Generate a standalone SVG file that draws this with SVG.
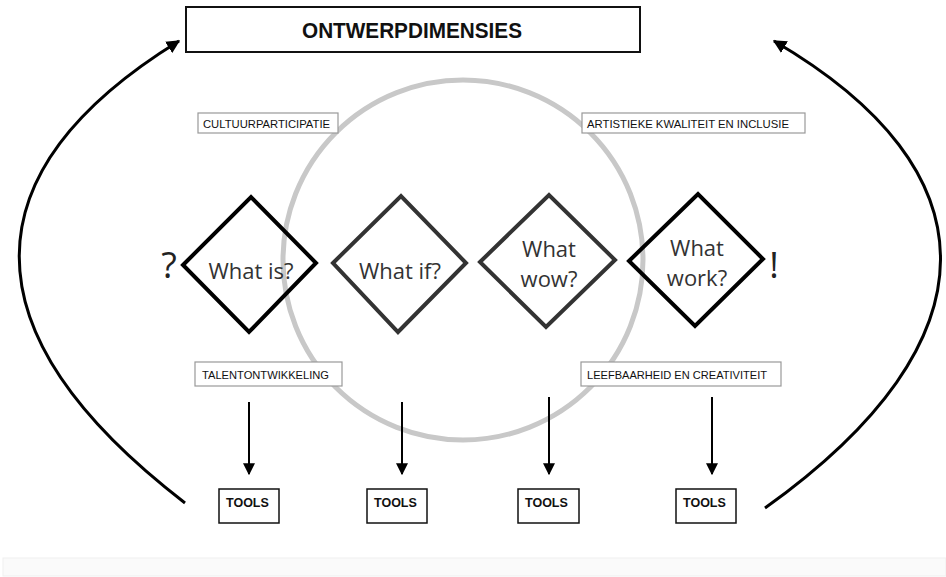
<svg xmlns="http://www.w3.org/2000/svg" width="946" height="577" viewBox="0 0 946 577">
<style>
.dia{fill:none;stroke-width:4;stroke-linejoin:miter}
.dt{font-family:"Open Sans","Noto Sans",sans-serif;font-size:22px;fill:#333;text-anchor:middle}
.lbl{fill:#fff;stroke:#999;stroke-width:1.2}
.lt{font-family:"Liberation Sans",Arial,sans-serif;font-size:11.5px;fill:#111}
.tool{fill:#fff;stroke:#111;stroke-width:1.5}
.tt{font-family:"Liberation Sans",Arial,sans-serif;font-size:12.5px;font-weight:bold;fill:#111}
.conn{fill:none;stroke:#000}
</style>
<defs>
<marker id="ah" viewBox="0 0 10 10" refX="9" refY="5" markerWidth="4.5" markerHeight="4.5" orient="auto" markerUnits="strokeWidth">
<path d="M0,0 L10,5 L0,10 z" fill="#000"/>
</marker>
<marker id="ahs" viewBox="0 0 10 10" refX="9" refY="5" markerWidth="6" markerHeight="6" orient="auto" markerUnits="strokeWidth">
<path d="M0,0 L10,5 L0,10 z" fill="#000"/>
</marker>
</defs>
<rect width="946" height="577" fill="#fff"/>
<rect x="3" y="558" width="943" height="18" fill="#fafafa" stroke="#efefef" stroke-width="1"/>
<g id="circle"><circle cx="463" cy="260" r="180" fill="none" stroke="#c8c8c8" stroke-width="5"/></g>
<g id="title">
<rect x="186" y="7" width="454" height="45" fill="#fff" stroke="#111" stroke-width="2"/>
<text x="412" y="38" text-anchor="middle" font-family="Liberation Sans,Arial,sans-serif" font-size="22" font-weight="bold" fill="#111" textLength="220" lengthAdjust="spacingAndGlyphs">ONTWERPDIMENSIES</text>
</g>
<g id="label-cultuur"><rect class="lbl" x="198" y="113" width="140" height="20"/><text class="lt" x="203" y="127.5" textLength="127" lengthAdjust="spacingAndGlyphs">CULTUURPARTICIPATIE</text></g>
<g id="label-artistiek"><rect class="lbl" x="582" y="113" width="223" height="20"/><text class="lt" x="587" y="127.5" textLength="202" lengthAdjust="spacingAndGlyphs">ARTISTIEKE KWALITEIT EN INCLUSIE</text></g>
<g id="label-talent"><rect class="lbl" x="195" y="362" width="147" height="24"/><text class="lt" x="202" y="379" textLength="127" lengthAdjust="spacingAndGlyphs">TALENTONTWIKKELING</text></g>
<g id="label-leefbaar"><rect class="lbl" x="581" y="362" width="200" height="24"/><text class="lt" x="587" y="379" textLength="180" lengthAdjust="spacingAndGlyphs">LEEFBAARHEID EN CREATIVITEIT</text></g>
<g id="q"><text x="169" y="278" text-anchor="middle" font-family="Open Sans,Noto Sans,sans-serif" font-size="36" fill="#222">?</text></g>
<g id="excl"><text x="774" y="278" text-anchor="middle" font-family="Open Sans,Noto Sans,sans-serif" font-size="36" fill="#222">!</text></g>
<g id="d1"><polygon class="dia" stroke="#000" points="183,265 251,197 316,263 249,332"/><text class="dt" x="251" y="279">What is?</text></g>
<g id="d2"><polygon class="dia" stroke="#333" points="333,263 401,196 466,263 398,332"/><text class="dt" x="400" y="279">What if?</text></g>
<g id="d3"><polygon class="dia" stroke="#333" points="480,262 549,195 615,260 546,327"/><text class="dt" x="549" y="257">What</text><text class="dt" x="549" y="287">wow?</text></g>
<g id="d4"><polygon class="dia" stroke="#000" points="629,261 698,194 763,259 695,326"/><text class="dt" x="697" y="256">What</text><text class="dt" x="697" y="286">work?</text></g>
<g id="tools1"><rect class="tool" x="219" y="489" width="60" height="34"/><text class="tt" x="226" y="507">TOOLS</text></g>
<g id="tools2"><rect class="tool" x="367" y="489" width="60" height="34"/><text class="tt" x="374" y="507">TOOLS</text></g>
<g id="tools3"><rect class="tool" x="518" y="489" width="61" height="34"/><text class="tt" x="525" y="507">TOOLS</text></g>
<g id="tools4"><rect class="tool" x="676" y="489" width="60" height="34"/><text class="tt" x="683" y="507">TOOLS</text></g>
<g id="connectors">
<line class="conn" stroke-width="2" x1="249" y1="402" x2="249" y2="474" marker-end="url(#ahs)"/>
<line class="conn" stroke-width="2" x1="402" y1="402" x2="402" y2="474" marker-end="url(#ahs)"/>
<line class="conn" stroke-width="2" x1="549" y1="397" x2="549" y2="474" marker-end="url(#ahs)"/>
<line class="conn" stroke-width="2" x1="712" y1="397" x2="712" y2="474" marker-end="url(#ahs)"/>
<path class="conn" stroke-width="3" d="M185,503 C-40,330 -30,170 179,41" marker-end="url(#ah)"/>
<path class="conn" stroke-width="3" d="M765,508 C1000,340 995,170 774,41" marker-end="url(#ah)"/>
</g>
</svg>
